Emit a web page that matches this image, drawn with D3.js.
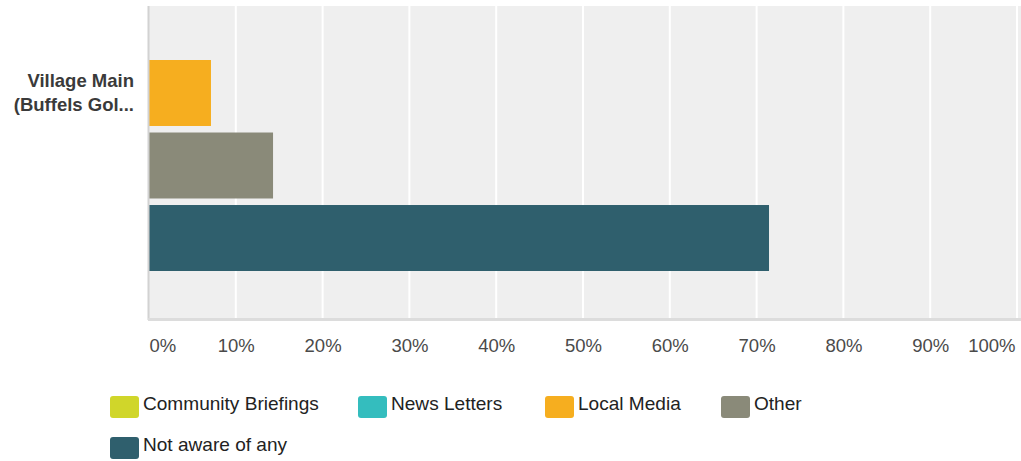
<!DOCTYPE html>
<html>
<head>
<meta charset="utf-8">
<script src="https://cdn.jsdelivr.net/npm/d3@7"></script>
<style>
  html, body { margin: 0; padding: 0; background: #fff; }
  svg { display: block; font-family: "Liberation Sans", Arial, sans-serif; }
</style>
</head>
<body>
<svg id="chart" width="1021" height="461"></svg>
<script>
// Awareness channels for one site, share of respondents (%)
const categoryLines = ["Village Main", "(Buffels Gol..."];
const seriesNames = ["Community Briefings", "News Letters", "Local Media", "Other", "Not aware of any"];
const seriesValues = [0, 0, 7.14, 14.29, 71.43];
const seriesColors = ["#d0d62a", "#34bdbe", "#f6ae1f", "#8a8a79", "#2f5f6d"];
const tickValues = [0, 10, 20, 30, 40, 50, 60, 70, 80, 90, 100];
const tickLabels = ["0%", "10%", "20%", "30%", "40%", "50%", "60%", "70%", "80%", "90%", "100%"];

const svg = d3.select("#chart");
const plot = { left: 149, right: 1021, top: 6, bottom: 319 };

const x = d3.scaleLinear().domain([0, 100]).range([149, 1017]);

const series = seriesNames.map((name, i) => ({ name, value: seriesValues[i], color: seriesColors[i] }));
const shown = series.filter(d => d.value > 0);

const y = d3.scaleBand()
  .domain(shown.map(d => d.name))
  .range([60, 271])
  .paddingInner(0.09);

// Plot background
svg.append("rect")
  .attr("x", plot.left).attr("y", plot.top)
  .attr("width", plot.right - plot.left).attr("height", plot.bottom - plot.top)
  .attr("fill", "#efefef");

// Vertical gridlines
svg.append("g")
  .selectAll("line")
  .data(tickValues.filter(v => v > 0))
  .join("line")
  .attr("x1", d => x(d)).attr("x2", d => x(d))
  .attr("y1", plot.top).attr("y2", plot.bottom)
  .attr("stroke", "#ffffff").attr("stroke-width", 2);

// Bars
svg.append("g")
  .selectAll("rect")
  .data(shown)
  .join("rect")
  .attr("x", x(0))
  .attr("y", d => y(d.name))
  .attr("width", d => x(d.value) - x(0))
  .attr("height", y.bandwidth())
  .attr("fill", d => d.color);

// Axis lines
svg.append("line")
  .attr("x1", 148.5).attr("x2", 148.5)
  .attr("y1", plot.top).attr("y2", plot.bottom + 1)
  .attr("stroke", "#d2d2d2").attr("stroke-width", 2);
svg.append("line")
  .attr("x1", 148).attr("x2", plot.right)
  .attr("y1", plot.bottom + 0.5).attr("y2", plot.bottom + 0.5)
  .attr("stroke", "#dcdcdc").attr("stroke-width", 3);

// X tick labels
const xAxis = d3.axisBottom(x)
  .tickValues(tickValues)
  .tickFormat((d, i) => tickLabels[i])
  .tickSize(0)
  .tickPadding(0);
const gx = svg.append("g")
  .attr("transform", `translate(0, 339)`)
  .call(xAxis);
gx.select(".domain").remove();
gx.selectAll("text")
  .attr("font-size", 18.5)
  .attr("font-family", '"Liberation Sans", Arial, sans-serif')
  .attr("fill", "#4a4a4a")
  .attr("text-anchor", (d, i) => i === 0 ? "start" : (i === tickValues.length - 1 ? "end" : "middle"))
  .attr("dy", "0.71em");
gx.selectAll(".tick").filter((d, i) => i === 0).select("text").attr("x", 0);
gx.selectAll(".tick").filter((d, i) => i === tickValues.length - 1).select("text").attr("x", -2);

// Category label
const cat = svg.append("text")
  .attr("text-anchor", "end")
  .attr("font-size", 18.5)
  .attr("font-weight", "bold")
  .attr("fill", "#3a3a3a");
categoryLines.forEach((line, i) => {
  cat.append("tspan").attr("x", 134).attr("y", 87 + i * 24).text(line);
});

// Legend
const legendPos = [
  { x: 110, y: 396 }, { x: 358, y: 396 }, { x: 545, y: 396 }, { x: 721, y: 396 }, { x: 110, y: 437 }
];
const legend = svg.append("g")
  .selectAll("g")
  .data(series)
  .join("g")
  .attr("transform", (d, i) => `translate(${legendPos[i].x}, ${legendPos[i].y})`);
legend.append("rect")
  .attr("width", 29).attr("height", 22).attr("rx", 3)
  .attr("fill", d => d.color);
legend.append("text")
  .attr("transform", "translate(33, 14) scale(1.06, 1)")
  .attr("font-size", 18)
  .attr("fill", "#222")
  .text(d => d.name);
</script>
</body>
</html>
